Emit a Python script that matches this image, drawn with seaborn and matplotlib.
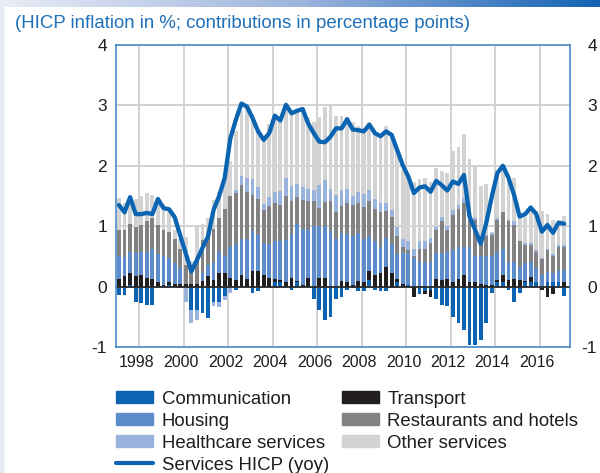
import numpy as np
import pandas as pd
import matplotlib
matplotlib.use('Agg')
import matplotlib.pyplot as plt
from matplotlib.colors import LinearSegmentedColormap
from matplotlib.patches import Patch, Rectangle
from matplotlib.lines import Line2D
from matplotlib.transforms import ScaledTranslation
import seaborn as sns

sns.set_theme(style='white')
plt.rcParams['font.family'] = ['Liberation Sans', 'DejaVu Sans']
plt.rcParams['axes.unicode_minus'] = False

# quarterly contributions, 1997Q1 - 2017Q1
quarters = pd.period_range('1997Q1', '2017Q1', freq='Q')

communication = [-0.14, -0.14, 0.02, -0.25, -0.27, -0.30, -0.30, 0.00, 0.00, 0.02,
                 0.00, -0.03, 0.00, -0.38, -0.38, -0.44, -0.52, -0.25, -0.25, -0.15,
                 0.00, -0.05, 0.00, 0.00, -0.10, -0.07, 0.00, 0.00, 0.07, 0.07,
                 0.00, -0.05, 0.08, 0.01, 0.00, -0.20, -0.38, -0.55, -0.50, -0.20,
                 -0.17, -0.06, -0.02, -0.07, -0.07, 0.11, -0.05, -0.08, -0.07, -0.03,
                 0.07, 0.00, 0.03, 0.00, -0.12, -0.08, -0.06, -0.20, -0.30, -0.32,
                 -0.50, -0.61, -0.72, -0.97, -0.97, -0.88, -0.60, -0.11, 0.08, 0.07,
                 -0.05, -0.26, -0.11, 0.07, 0.07, 0.07, 0.00, 0.07, 0.07, 0.07,
                 -0.15]
transport = [0.13, 0.18, 0.21, 0.18, 0.19, 0.15, 0.13, 0.08, 0.02, 0.05,
             0.04, 0.04, 0.05, 0.05, 0.04, 0.09, 0.17, 0.11, 0.23, 0.23,
             0.14, 0.11, 0.19, 0.13, 0.26, 0.26, 0.19, 0.14, 0.06, 0.04,
             0.07, 0.14, 0.02, 0.01, 0.14, 0.00, 0.14, 0.15, 0.00, 0.00,
             0.09, 0.08, 0.03, 0.10, 0.08, 0.15, 0.19, 0.22, 0.33, 0.23,
             0.06, 0.04, 0.00, -0.18, 0.00, -0.04, -0.12, 0.13, 0.11, 0.13,
             0.08, 0.13, 0.19, 0.07, 0.08, 0.04, 0.03, 0.03, 0.03, 0.12,
             0.11, 0.13, 0.11, 0.03, 0.09, 0.00, -0.05, -0.18, -0.12, 0.00,
             0.07]
housing = [0.38, 0.31, 0.34, 0.37, 0.39, 0.43, 0.49, 0.46, 0.49, 0.41,
           0.35, 0.26, 0.00, 0.00, 0.00, 0.13, 0.19, 0.30, 0.35, 0.27,
           0.51, 0.60, 0.59, 0.65, 0.66, 0.59, 0.54, 0.57, 0.62, 0.65,
           0.70, 0.73, 0.93, 0.93, 0.80, 1.01, 0.87, 0.85, 0.92, 0.78,
           0.79, 0.79, 0.80, 0.79, 0.71, 0.58, 0.56, 0.44, 0.47, 0.48,
           0.41, 0.51, 0.52, 0.47, 0.41, 0.40, 0.41, 0.42, 0.44, 0.44,
           0.53, 0.53, 0.47, 0.59, 0.43, 0.47, 0.47, 0.47, 0.47, 0.44,
           0.30, 0.28, 0.22, 0.29, 0.24, 0.23, 0.19, 0.18, 0.16, 0.19,
           0.21]
restaurants = [0.42, 0.45, 0.47, 0.44, 0.44, 0.51, 0.52, 0.48, 0.43, 0.43,
               0.39, 0.32, 0.31, 0.31, 0.43, 0.55, 0.44, 0.55, 0.55, 0.78,
               0.85, 0.84, 0.90, 0.78, 0.60, 0.60, 0.53, 0.63, 0.63, 0.59,
               0.73, 0.54, 0.46, 0.48, 0.48, 0.40, 0.29, 0.40, 0.49, 0.45,
               0.46, 0.51, 0.52, 0.49, 0.52, 0.57, 0.54, 0.57, 0.45, 0.44,
               0.30, 0.11, 0.06, 0.03, 0.21, 0.22, 0.32, 0.39, 0.54, 0.37,
               0.58, 0.63, 0.73, 0.45, 0.59, 0.27, 0.34, 0.36, 0.53, 0.60,
               0.68, 0.61, 0.42, 0.30, 0.29, 0.28, 0.26, 0.36, 0.27, 0.40,
               0.38]
healthcare = [0.00, 0.00, 0.00, 0.00, 0.00, 0.00, 0.00, 0.00, 0.00, 0.00,
              0.00, 0.00, -0.25, -0.22, -0.18, 0.00, 0.00, -0.07, -0.09, -0.08,
              -0.10, 0.05, 0.15, 0.24, 0.26, 0.20, 0.11, 0.14, 0.19, 0.23,
              0.30, 0.25, 0.21, 0.22, 0.19, 0.19, 0.38, 0.37, 0.21, 0.29,
              0.26, 0.23, 0.15, 0.18, 0.22, 0.19, 0.16, 0.15, 0.13, 0.12,
              0.14, 0.13, 0.14, 0.12, 0.13, 0.14, 0.08, 0.04, 0.07, 0.06,
              0.07, 0.06, 0.08, 0.05, 0.03, 0.02, 0.02, 0.03, 0.02, 0.01,
              0.01, 0.06, 0.01, 0.04, 0.03, 0.03, 0.02, 0.01, 0.04, 0.03,
              0.03]
other = [0.53, 0.44, 0.46, 0.46, 0.48, 0.46, 0.38, 0.41, 0.43, 0.33,
         0.16, 0.16, 0.46, 0.06, 0.52, 0.27, 0.33, 0.47, 0.44, 0.50,
         0.58, 0.97, 1.07, 1.15, 1.07, 0.95, 1.13, 1.22, 1.18, 1.22,
         1.15, 1.19, 1.20, 1.30, 1.19, 1.13, 1.12, 1.21, 1.37, 1.31,
         1.23, 1.20, 1.22, 1.10, 1.09, 1.12, 1.08, 1.10, 1.28, 1.28,
         1.26, 1.14, 1.10, 1.12, 1.03, 1.03, 0.93, 0.98, 0.76, 0.88,
         0.99, 0.96, 1.06, 0.96, 0.86, 0.86, 0.84, 0.02, 0.76, 0.75,
         0.71, 0.71, 0.43, 0.42, 0.60, 0.64, 0.78, 0.58, 0.56, 0.36,
         0.48]
services_hicp = [1.35, 1.23, 1.48, 1.20, 1.20, 1.22, 1.20, 1.45, 1.30, 1.28,
                 1.15, 0.85, 0.55, 0.25, 0.44, 0.64, 0.83, 1.27, 1.50, 1.80,
                 2.45, 2.76, 3.03, 2.98, 2.79, 2.57, 2.43, 2.54, 2.83, 2.75,
                 3.01, 2.87, 2.91, 2.94, 2.70, 2.54, 2.40, 2.39, 2.48, 2.62,
                 2.62, 2.77, 2.60, 2.59, 2.57, 2.68, 2.54, 2.49, 2.57, 2.51,
                 2.26, 2.01, 1.82, 1.55, 1.64, 1.66, 1.57, 1.75, 1.68, 1.59,
                 1.74, 1.70, 1.85, 1.16, 0.94, 0.71, 1.05, 1.49, 1.88, 2.00,
                 1.80, 1.52, 1.16, 1.20, 1.31, 1.20, 0.91, 1.02, 0.89, 1.06,
                 1.04]

series = [('Communication', communication, '#0b63b2'),
          ('Transport', transport, '#221e1f'),
          ('Housing', housing, '#5d8ccd'),
          ('Restaurants and hotels', restaurants, '#828282'),
          ('Healthcare services', healthcare, '#99b3df'),
          ('Other services', other, '#d3d3d3')]
line_color = '#0a64b1'

# bars sit on the middle month of each quarter
x = quarters.year + (quarters.quarter - 1) * 0.25 + 1 / 12

fig = plt.figure(figsize=(6, 4.73), dpi=100)
ax = fig.add_axes([115.5 / 600, 1 - 347 / 473, 454 / 600, 302 / 473])

pos_base = np.zeros(len(x))
neg_base = np.zeros(len(x))
for name, vals, col in series:
    v = np.array(vals)
    p = np.clip(v, 0, None)
    n = np.clip(v, None, 0)
    ax.bar(x, p, bottom=pos_base, width=0.17, color=col, linewidth=0, zorder=2)
    ax.bar(x, n, bottom=neg_base, width=0.17, color=col, linewidth=0, zorder=2)
    pos_base += p
    neg_base += n

ax.axhline(0, color='#2b2b2b', lw=1.3, zorder=3)
sns.lineplot(x=x, y=services_hicp, ax=ax, color=line_color, lw=3.1,
             legend=False, zorder=4)

ax.set_xlim(1996.926, 2017.325)
ax.set_ylim(-1, 4)
ax.set_xticks(range(1998, 2017, 2))
ax.set_yticks(range(-1, 5))
ax.grid(True, color='#d2d2d2', lw=1.4, zorder=0)
ax.set_axisbelow(True)
ax.tick_params(axis='both', length=0, colors='#1e1e1e')
ax.tick_params(axis='x', pad=5.5, labelsize=11.5)
ax.tick_params(axis='y', pad=6, labelsize=12.5)
for lbl in ax.get_xticklabels():
    lbl.set_transform(lbl.get_transform() + ScaledTranslation(-3 / 100, 0, fig.dpi_scale_trans))
for s in ax.spines.values():
    s.set_color('#3f82c3')
    s.set_linewidth(1.1)
    s.set_zorder(5)
ax.set_xlabel('')
ax.set_ylabel('')

ax2 = ax.twinx()
ax2.set_ylim(-1, 4)
ax2.set_yticks(range(-1, 5))
ax2.tick_params(axis='y', length=0, labelsize=12.5, colors='#1e1e1e', pad=19.8)
for lbl in ax2.get_yticklabels():
    lbl.set_horizontalalignment('right')
ax2.grid(False)
for s in ax2.spines.values():
    s.set_visible(False)

fig.text(15 / 600, 1 - 24 / 473, '(HICP inflation in %; contributions in percentage points)',
         color='#1f70b8', fontsize=13.4, va='center', ha='left')

# gradient band along the top edge and a pale strip down the left edge
band = fig.add_axes([0, 1 - 7 / 473, 1, 7 / 473])
band.imshow(np.linspace(0, 1, 256)[None, :], aspect='auto',
            cmap=LinearSegmentedColormap.from_list('band', ['#e9edf6', '#9db4dd', '#1464b4']))
band.axis('off')
fig.patches.append(Rectangle((0, 0), 3 / 600, 1 - 7 / 473, transform=fig.transFigure,
                             color='#e6eaf4', zorder=0))

h = {name: Patch(color=col) for name, _, col in series}
line_h = Line2D([], [], color=line_color, lw=3.0)
order = ['Communication', 'Housing', 'Healthcare services']
handles = [h[k] for k in order] + [line_h] + [h['Transport'], h['Restaurants and hotels'], h['Other services']]
labels = order + ['Services HICP (yoy)', 'Transport', 'Restaurants and hotels', 'Other services']
fig.legend(handles, labels, loc='upper left', bbox_to_anchor=(116 / 600, 1 - 390.5 / 473),
           ncol=2, frameon=False, fontsize=13.4, handlelength=2.0, handleheight=0.6,
           handletextpad=0.45, columnspacing=0.7, labelspacing=0.27, borderpad=0,
           borderaxespad=0, labelcolor='#1e1e1e')

fig.savefig('out.png', dpi=100)
